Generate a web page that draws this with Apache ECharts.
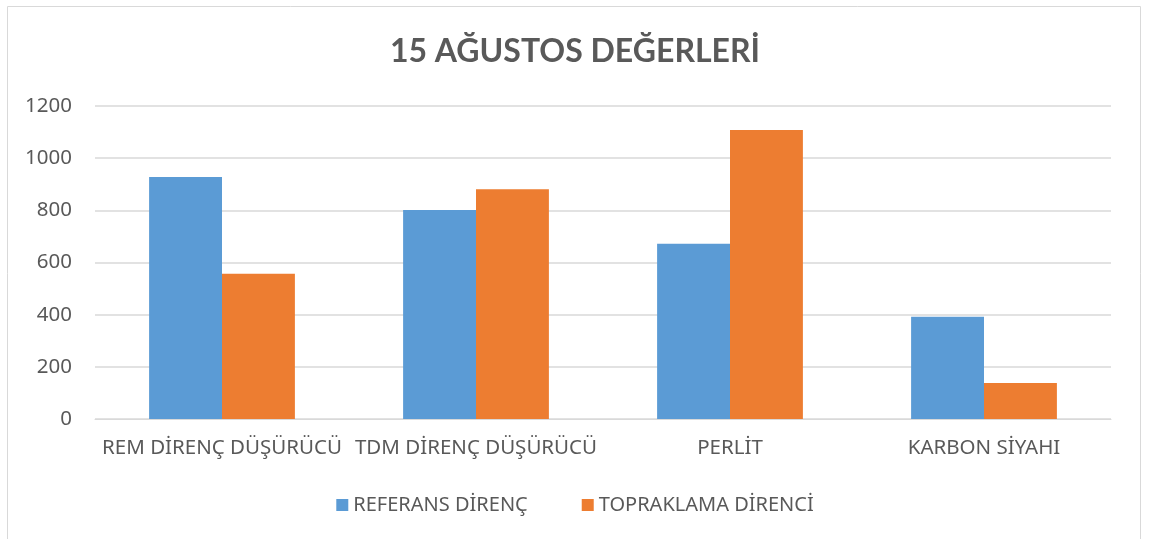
<!DOCTYPE html>
<html>
<head>
<meta charset="utf-8">
<script src="https://cdn.jsdelivr.net/npm/echarts@6/dist/echarts.min.js"></script>
<style>
    html, body { margin: 0; padding: 0; background: #fff; }
    #chart_con { width: 1150px; height: 539px; }
</style>
</head>
<body>
<div id="chart_con"></div>
<script>
// values
var categories = ['REM DİRENÇ DÜŞÜRÜCÜ', 'TDM DİRENÇ DÜŞÜRÜCÜ', 'PERLİT', 'KARBON SİYAHI'];
var referansDirenc = [928, 801, 672, 392];
var topraklamaDirenci = [557, 881, 1108, 138];
var seriesNames = ['REFERANS DİRENÇ', 'TOPRAKLAMA DİRENCİ'];

var chart = echarts.init(document.getElementById('chart_con'));
var textColor = '#595959';
var font = '"Noto Sans", "Open Sans", sans-serif';

var option = {
    animation: false,
    title: {
        text: '15 AĞUSTOS DEĞERLERİ',
        left: 'center',
        top: 31,
        textStyle: {
            fontFamily: 'Lato, sans-serif',
            fontSize: 32,
            fontWeight: 'bold',
            color: textColor
        }
    },
    graphic: [{
        type: 'rect',
        shape: { x: 7.5, y: 6.5, width: 1133, height: 560 },
        style: { fill: 'none', stroke: '#d9d9d9', lineWidth: 1 },
        silent: true
    }],
    legend: {
        data: seriesNames,
        bottom: 19,
        left: 'center',
        itemWidth: 12,
        itemHeight: 12,
        itemGap: 54,
        icon: 'rect',
        textStyle: { fontFamily: font, fontSize: 20, color: textColor }
    },
    grid: {
        left: 95,
        right: 39,
        top: 106,
        bottom: 120,
        containLabel: false
    },
    xAxis: {
        type: 'category',
        data: categories,
        axisLine: { show: true, lineStyle: { color: '#d9d9d9', width: 1 } },
        axisTick: { show: false },
        axisLabel: { fontFamily: font, fontSize: 20.5, color: textColor, margin: 19, interval: 0 }
    },
    yAxis: {
        type: 'value',
        min: 0,
        max: 1200,
        interval: 200,
        axisLine: { show: false },
        axisTick: { show: false },
        axisLabel: {
            fontFamily: font,
            fontSize: 20.5,
            color: textColor,
            margin: 23,
            formatter: function (v) { return String(v); }
        },
        splitLine: { lineStyle: { color: '#d9d9d9', width: 1.5 } }
    },
    series: [
        {
            name: seriesNames[0],
            type: 'bar',
            data: referansDirenc,
            barWidth: '28.7%',
            barGap: '0%',
            itemStyle: { color: '#5b9bd5' }
        },
        {
            name: seriesNames[1],
            type: 'bar',
            data: topraklamaDirenci,
            barWidth: '28.7%',
            barGap: '0%',
            itemStyle: { color: '#ed7d31' }
        }
    ]
};
chart.setOption(option);
window.addEventListener('resize', function () {
    chart.resize();
});
</script>
</body>
</html>
